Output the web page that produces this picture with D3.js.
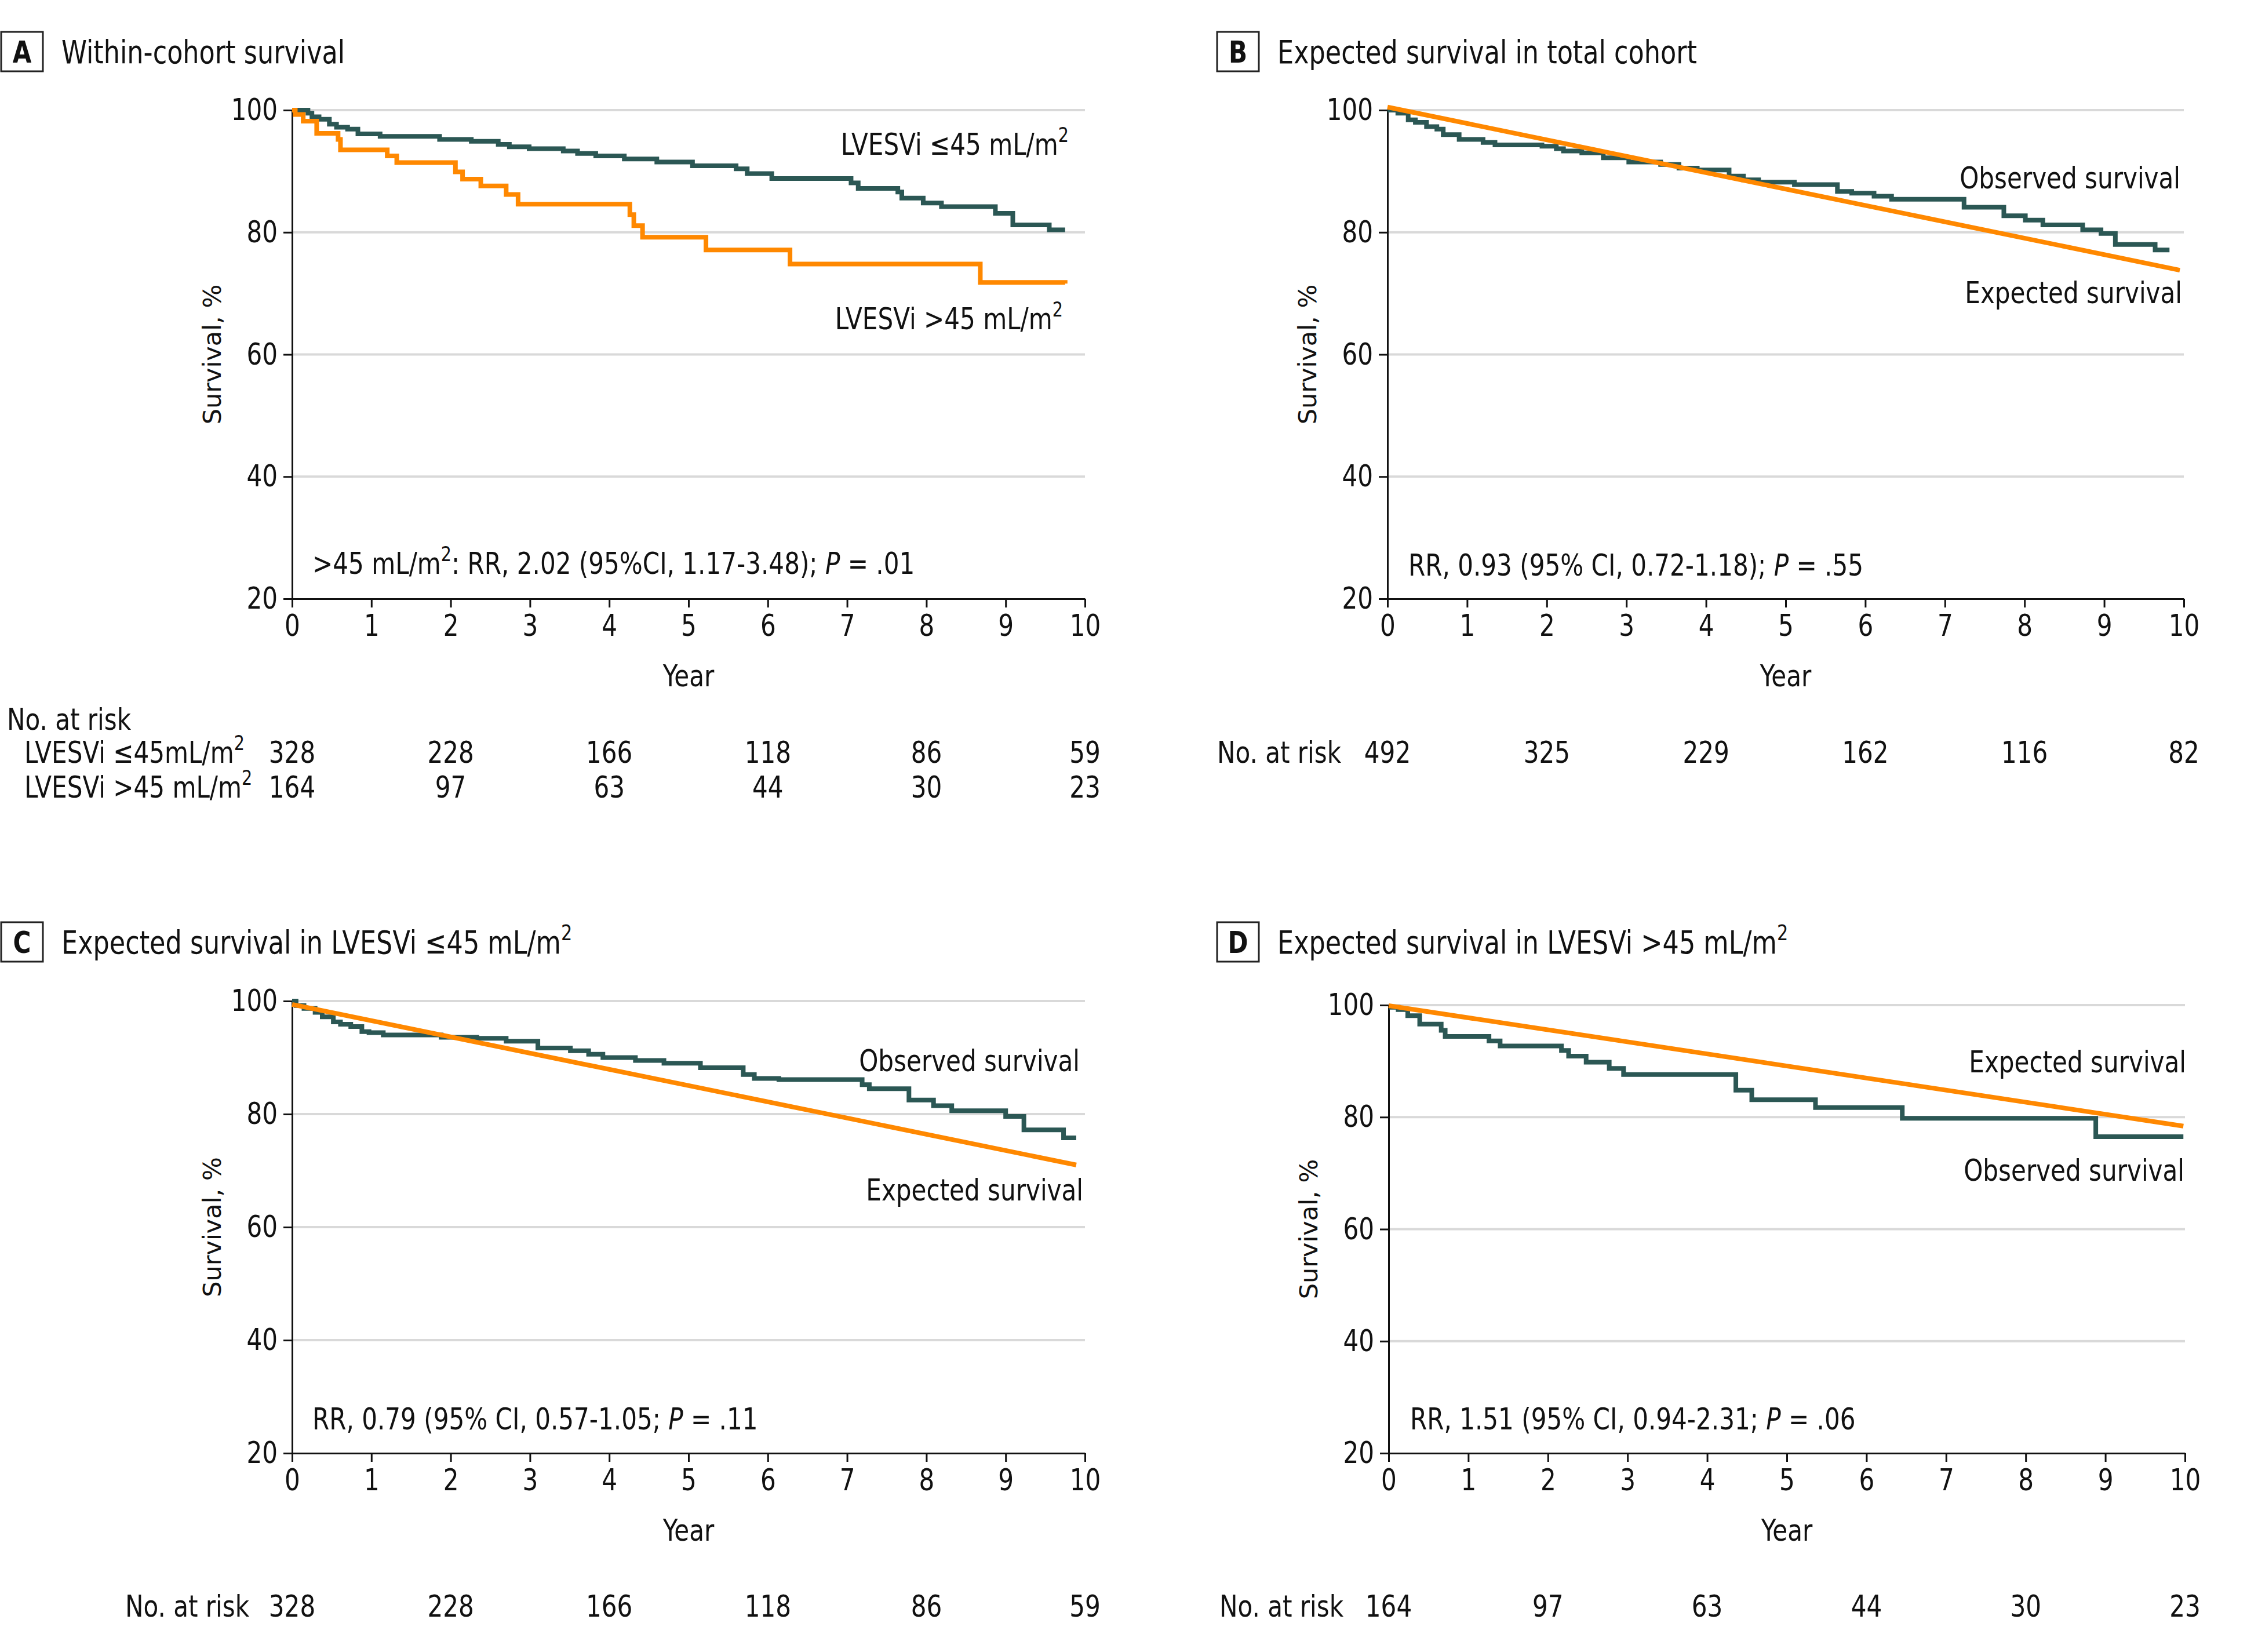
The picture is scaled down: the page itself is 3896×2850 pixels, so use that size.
<!DOCTYPE html>
<html lang="en">
<head>
<meta charset="utf-8">
<title>Survival panels</title>
<script src="https://d3js.org/d3.v7.min.js"></script>
<style>
  body { margin: 0; background: #fff; }
  svg { background: #fff; display: block; }
  text { font-family: "DejaVu Sans Condensed", "DejaVu Sans", sans-serif; font-stretch: condensed; fill: #111; }
  .ytitle { font-family: "DejaVu Sans", sans-serif; font-stretch: normal; }
</style>
</head>
<body>
<script>

// ---- data ----
var yTicks = [20, 40, 60, 80, 100];
var xTicks = [0, 1, 2, 3, 4, 5, 6, 7, 8, 9, 10];
var riskYears = [0, 2, 4, 6, 8, 10];

// panel A: within-cohort Kaplan-Meier
var aLow = [[0,100],[0.2,99.5],[0.25,98.9],[0.34,98.5],[0.47,97.7],[0.56,97.2],[0.7,96.9],[0.83,96.1],[1.11,95.7],[1.86,95.2],[2.26,94.9],[2.6,94.4],[2.74,94.0],[2.99,93.7],[3.42,93.3],[3.6,92.9],[3.83,92.5],[4.19,92.0],[4.6,91.5],[5.05,90.9],[5.6,90.4],[5.74,89.6],[6.05,88.8],[7.05,88.1],[7.14,87.2],[7.64,86.6],[7.69,85.6],[7.96,84.8],[8.19,84.2],[8.87,83.1],[9.09,81.2],[9.55,80.4],[9.75,80.4]];
var aHigh = [[0,100],[0.04,99.3],[0.14,98.2],[0.31,96.2],[0.58,95.2],[0.61,93.5],[1.2,92.5],[1.32,91.4],[2.06,89.9],[2.15,88.7],[2.38,87.6],[2.7,86.2],[2.85,84.6],[4.26,82.9],[4.31,81.1],[4.42,79.2],[5.22,77.1],[6.28,74.8],[8.68,71.8],[9.75,71.6]];

// panel B: total cohort
var bObserved = [[0,100],[0.13,99.5],[0.26,98.4],[0.35,98.0],[0.49,97.3],[0.62,96.9],[0.7,96.0],[0.9,95.2],[1.2,94.7],[1.35,94.3],[1.94,94.1],[2.12,93.7],[2.21,93.3],[2.44,93.0],[2.71,92.2],[3.03,91.5],[3.43,91.1],[3.66,90.5],[3.89,90.2],[4.29,89.2],[4.47,88.6],[4.66,88.2],[5.11,87.8],[5.65,86.7],[5.83,86.4],[6.11,85.9],[6.33,85.4],[7.24,84.1],[7.74,82.7],[8.01,82.0],[8.23,81.2],[8.73,80.4],[8.96,79.8],[9.14,78.0],[9.64,77.1],[9.82,77.1]];
var bExpected = [[0,100.5],[9.95,73.8]];

// panel C: LVESVi <=45
var cObserved = [[0,100],[0.05,99.2],[0.15,98.7],[0.29,98.0],[0.38,97.2],[0.52,96.3],[0.61,95.9],[0.74,95.5],[0.88,94.6],[0.97,94.4],[1.15,94.0],[1.88,93.6],[2.33,93.4],[2.7,92.9],[3.1,91.7],[3.51,91.2],[3.74,90.6],[3.92,90.0],[4.33,89.5],[4.69,89.0],[5.15,88.2],[5.69,87.0],[5.83,86.3],[6.14,86.1],[7.19,85.2],[7.28,84.5],[7.78,82.5],[8.09,81.5],[8.32,80.6],[9.0,79.6],[9.23,77.2],[9.73,75.8],[9.89,75.8]];
var cExpected = [[0,99.4],[9.89,71.0]];

// panel D: LVESVi >45
var dObserved = [[0,99.6],[0.12,99.2],[0.24,98.1],[0.39,96.6],[0.66,95.5],[0.71,94.4],[1.26,93.6],[1.4,92.7],[2.17,91.9],[2.26,90.9],[2.48,89.8],[2.77,88.7],[2.95,87.6],[4.36,84.8],[4.56,83.1],[5.36,81.7],[6.45,79.8],[8.88,76.5],[9.98,76.5]];
var dExpected = [[0,99.9],[9.98,78.4]];

// numbers at risk
var aRiskLow  = [328, 228, 166, 118, 86, 59];
var aRiskHigh = [164, 97, 63, 44, 30, 23];
var bRisk     = [492, 325, 229, 162, 116, 82];
var cRisk     = [328, 228, 166, 118, 86, 59];
var dRisk     = [164, 97, 63, 44, 30, 23];

var teal = "#2b5754", orange = "#ff8800";
var fs = 52, sx = 0.9;   // narrow face: larger size squeezed sideways

var svg = d3.select("body").append("svg")
  .attr("width", 3896)
  .attr("height", 2850);

// write text made of plain / superscript / italic pieces
function rich(sel, parts) {
  var back = null;
  parts.forEach(function(p) {
    var ts;
    if (typeof p === "string") {
      ts = sel.append("tspan").text(p);
    } else if (p[0] === "sup") {
      ts = sel.append("tspan").attr("font-size", "0.68em").text(p[1]);
      ts.attr("dy", "-0.62em");
    } else {
      ts = sel.append("tspan").attr("font-style", "italic").text(p[1]);
    }
    if (back) { ts.attr("dy", back); back = null; }
    if (p[0] === "sup") back = "0.42em";
  });
  return sel;
}

function label(g, x, y, parts, anchor, size) {
  var t = g.append("text")
    .attr("transform", "translate(" + x + "," + y + ") scale(" + sx + ",1)")
    .attr("dy", "0.36em")
    .attr("text-anchor", anchor || "start")
    .attr("font-size", size || fs);
  return rich(t, parts);
}

function panel(p) {
  var g = svg.append("g");

  var x = d3.scaleLinear().domain([0, 10]).range([p.x0, p.x1]);
  var y = d3.scaleLinear().domain([20, 100]).range([p.yb, p.yt]);

  // letter box + title
  g.append("rect")
    .attr("x", p.bx).attr("y", p.by)
    .attr("width", 72).attr("height", 68)
    .attr("fill", "none").attr("stroke", "#222").attr("stroke-width", 3);
  label(g, p.bx + 36, p.by + 34, [p.letter], "middle", 52).attr("font-weight", "bold");
  label(g, p.bx + 104, p.by + 34, p.title, "start", 55);

  // grid
  g.selectAll(".grid")
    .data(yTicks.slice(1))
    .enter().append("line")
    .attr("x1", p.x0).attr("x2", p.x1)
    .attr("y1", function(d) { return y(d); })
    .attr("y2", function(d) { return y(d); })
    .attr("stroke", "#d9d9d9").attr("stroke-width", 4);

  // axes
  var ya = g.append("g")
    .attr("transform", "translate(" + p.x0 + ",0)")
    .call(d3.axisLeft(y).tickValues(yTicks).tickSize(15).tickSizeOuter(0).tickPadding(10));
  var xa = g.append("g")
    .attr("transform", "translate(0," + p.yb + ")")
    .call(d3.axisBottom(x).tickValues(xTicks).tickSize(15).tickSizeOuter(0).tickPadding(12));
  [ya, xa].forEach(function(a) {
    a.select(".domain").attr("stroke", "#111").attr("stroke-width", 3);
    a.selectAll(".tick line").attr("stroke", "#111").attr("stroke-width", 3);
    a.selectAll(".tick text")
      .attr("font-family", null)
      .attr("font-size", fs)
      .attr("fill", "#111")
      .attr("transform", function() {
        var tx = +this.getAttribute("x") || 0;
        return "translate(" + (tx * (1 - sx)) + ",0) scale(" + sx + ",1)";
      });
  });

  // axis titles
  label(g, x(5), p.yb + 132, ["Year"], "middle");
  g.append("text")
    .attr("class", "ytitle")
    .attr("transform", "translate(" + (p.x0 - 138) + "," + ((p.yt + p.yb) / 2) + ") rotate(-90)")
    .attr("dy", "0.36em")
    .attr("text-anchor", "middle")
    .attr("font-size", 43)
    .text("Survival, %");

  // curves
  var step = d3.line()
    .x(function(d) { return x(d[0]); })
    .y(function(d) { return y(d[1]); })
    .curve(d3.curveStepAfter);
  var straight = d3.line()
    .x(function(d) { return x(d[0]); })
    .y(function(d) { return y(d[1]); });

  p.curves.forEach(function(c) {
    g.append("path")
      .datum(c.data)
      .attr("d", c.step ? step : straight)
      .attr("fill", "none")
      .attr("stroke", c.color)
      .attr("stroke-width", 8)
      .attr("stroke-linejoin", "miter");
  });

  // curve labels and RR note
  p.notes.forEach(function(n) {
    label(g, n.x, n.y, n.parts, n.anchor);
  });

  // numbers at risk
  p.risk.forEach(function(r) {
    if (r.name) label(g, r.nx, r.y, r.name, "start");
    r.values.forEach(function(v, i) {
      label(g, x(riskYears[i]), r.y, [String(v)], "middle");
    });
  });
}

panel({
  letter: "A", bx: 2, by: 55,
  title: ["Within-cohort survival"],
  x0: 504, x1: 1872, yt: 190, yb: 1033,
  curves: [
    { data: aLow, color: teal, step: true },
    { data: aHigh, color: orange, step: true }
  ],
  notes: [
    { x: 1844, y: 248, anchor: "end", parts: ["LVESVi \u226445 mL/m", ["sup", "2"]] },
    { x: 1834, y: 549, anchor: "end", parts: ["LVESVi >45 mL/m", ["sup", "2"]] },
    { x: 539, y: 971, anchor: "start", parts: [">45 mL/m", ["sup", "2"], ": RR, 2.02 (95%CI, 1.17-3.48); ", ["i", "P"], " = .01"] }
  ],
  risk: [
    { nx: 12, y: 1240, name: ["No. at risk"], values: [] },
    { nx: 42, y: 1297, name: ["LVESVi \u226445mL/m", ["sup", "2"]], values: aRiskLow },
    { nx: 42, y: 1357, name: ["LVESVi >45 mL/m", ["sup", "2"]], values: aRiskHigh }
  ]
});

panel({
  letter: "B", bx: 2100, by: 55,
  title: ["Expected survival in total cohort"],
  x0: 2394, x1: 3768, yt: 190, yb: 1033,
  curves: [
    { data: bObserved, color: teal, step: true },
    { data: bExpected, color: orange, step: false }
  ],
  notes: [
    { x: 3762, y: 306, anchor: "end", parts: ["Observed survival"] },
    { x: 3765, y: 504, anchor: "end", parts: ["Expected survival"] },
    { x: 2430, y: 974, anchor: "start", parts: ["RR, 0.93 (95% CI, 0.72-1.18); ", ["i", "P"], " = .55"] }
  ],
  risk: [
    { nx: 2100, y: 1297, name: ["No. at risk"], values: bRisk }
  ]
});

panel({
  letter: "C", bx: 2, by: 1591,
  title: ["Expected survival in LVESVi \u226445 mL/m", ["sup", "2"]],
  x0: 504, x1: 1872, yt: 1727, yb: 2507,
  curves: [
    { data: cObserved, color: teal, step: true },
    { data: cExpected, color: orange, step: false }
  ],
  notes: [
    { x: 1863, y: 1829, anchor: "end", parts: ["Observed survival"] },
    { x: 1869, y: 2052, anchor: "end", parts: ["Expected survival"] },
    { x: 539, y: 2447, anchor: "start", parts: ["RR, 0.79 (95% CI, 0.57-1.05; ", ["i", "P"], " = .11"] }
  ],
  risk: [
    { nx: 216, y: 2770, name: ["No. at risk"], values: cRisk }
  ]
});

panel({
  letter: "D", bx: 2100, by: 1591,
  title: ["Expected survival in LVESVi >45 mL/m", ["sup", "2"]],
  x0: 2396, x1: 3770, yt: 1734, yb: 2507,
  curves: [
    { data: dObserved, color: teal, step: true },
    { data: dExpected, color: orange, step: false }
  ],
  notes: [
    { x: 3772, y: 1831, anchor: "end", parts: ["Expected survival"] },
    { x: 3769, y: 2018, anchor: "end", parts: ["Observed survival"] },
    { x: 2433, y: 2447, anchor: "start", parts: ["RR, 1.51 (95% CI, 0.94-2.31; ", ["i", "P"], " = .06"] }
  ],
  risk: [
    { nx: 2104, y: 2770, name: ["No. at risk"], values: dRisk }
  ]
});

</script>
</body>
</html>
